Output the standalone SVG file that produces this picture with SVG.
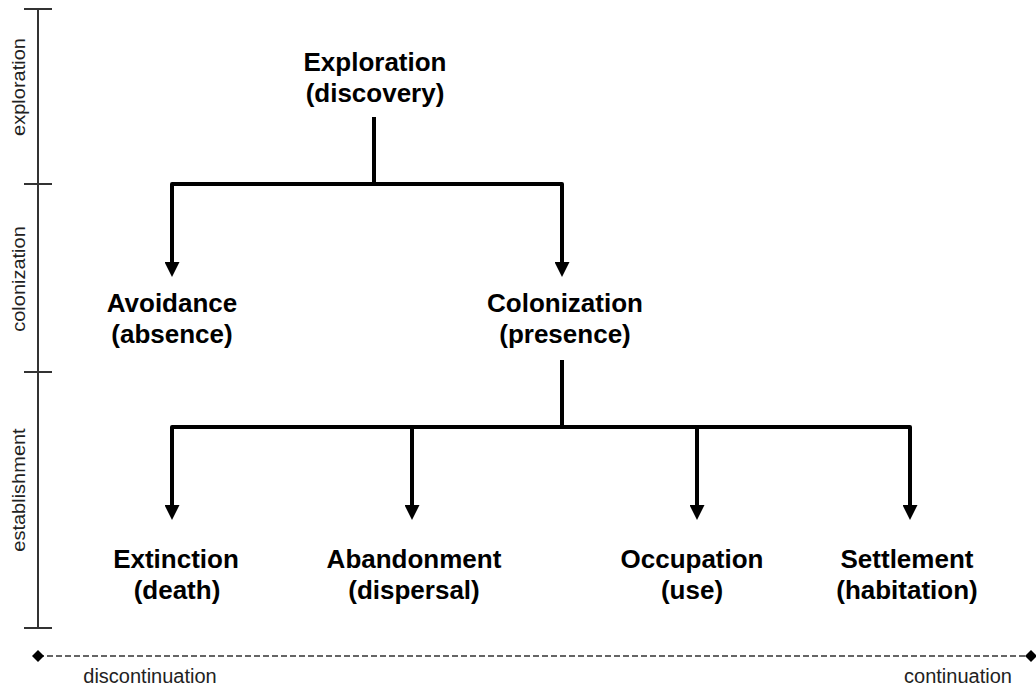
<svg xmlns="http://www.w3.org/2000/svg" width="1036" height="688" viewBox="0 0 1036 688">
<style>
.lbl{font-family:"Liberation Sans",Arial,sans-serif;font-weight:bold;font-size:26px;fill:#000;text-anchor:middle}
.ax{font-family:"Liberation Sans",Arial,sans-serif;font-size:20px;fill:#222;text-anchor:middle}
.conn{fill:none;stroke:#000;stroke-width:4;stroke-linejoin:round}
.axis{fill:none;stroke:#333;stroke-width:2}
</style>
<defs>
<marker id="arr" markerUnits="userSpaceOnUse" markerWidth="15" markerHeight="15" viewBox="0 0 15 15" refX="7" refY="7.5" orient="auto-start-reverse">
<path d="M0,0 L15,7.5 L0,15 z" fill="#000"/>
</marker>
<marker id="dia" markerUnits="userSpaceOnUse" markerWidth="12" markerHeight="12" viewBox="0 0 12 12" refX="6" refY="6" orient="auto">
<path d="M0,6 L6,0 L12,6 L6,12 z" fill="#000"/>
</marker>
</defs>
<g id="axis">
<path class="axis" d="M38,9 V628 M24,9 H52 M24,184 H52 M24,372 H52 M24,628 H52"/>
<text class="ax" transform="translate(25,87) rotate(-90) scale(1,0.9)">exploration</text>
<text class="ax" transform="translate(25,279) rotate(-90) scale(1,0.9)">colonization</text>
<text class="ax" transform="translate(25,490) rotate(-90) scale(1,0.9)">establishment</text>
</g>
<g id="scale">
<line x1="38" y1="656" x2="1031" y2="656" stroke="#333" stroke-width="1.5" stroke-dasharray="6 3" marker-start="url(#dia)" marker-end="url(#dia)"/>
<text class="ax" x="150" y="683">discontinuation</text>
<text class="ax" x="958" y="683">continuation</text>
</g>
<g id="connectors">
<path class="conn" d="M374,117 V184"/>
<path class="conn" d="M172,269 V184 H562 V269" marker-start="url(#arr)" marker-end="url(#arr)"/>
<path class="conn" d="M562,360 V427"/>
<path class="conn" d="M172,512 V427 H910 V512" marker-start="url(#arr)" marker-end="url(#arr)"/>
<path class="conn" d="M412,427 V512" marker-end="url(#arr)"/>
<path class="conn" d="M697,427 V512" marker-end="url(#arr)"/>
</g>
<g id="exploration"><text class="lbl" x="375" y="71">Exploration</text><text class="lbl" x="375" y="102">(discovery)</text></g>
<g id="avoidance"><text class="lbl" x="172" y="312">Avoidance</text><text class="lbl" x="172" y="343">(absence)</text></g>
<g id="colonization"><text class="lbl" x="565" y="312">Colonization</text><text class="lbl" x="565" y="343">(presence)</text></g>
<g id="extinction"><text class="lbl" x="176" y="568">Extinction</text><text class="lbl" x="177" y="599">(death)</text></g>
<g id="abandonment"><text class="lbl" x="414" y="568">Abandonment</text><text class="lbl" x="414" y="599">(dispersal)</text></g>
<g id="occupation"><text class="lbl" x="692" y="568">Occupation</text><text class="lbl" x="692" y="599">(use)</text></g>
<g id="settlement"><text class="lbl" x="907" y="568">Settlement</text><text class="lbl" x="907" y="599">(habitation)</text></g>
</svg>
